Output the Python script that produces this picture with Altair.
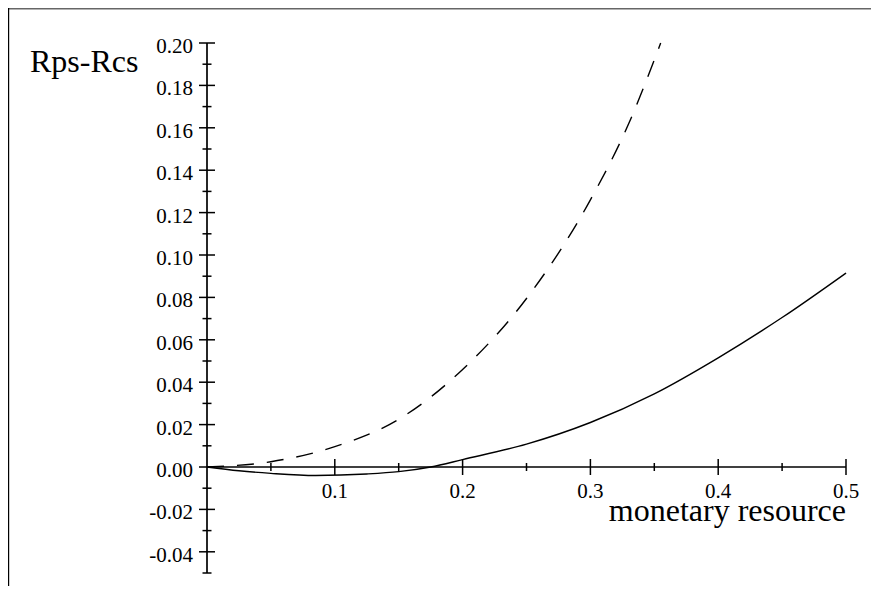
import altair as alt
import pandas as pd

# ---- data ----
solid_x = [0, 0.025, 0.05, 0.085, 0.125, 0.15, 0.175, 0.2, 0.25, 0.3, 0.35, 0.4, 0.45, 0.5]
solid_y = [0, -0.0018, -0.003, -0.004, -0.0033, -0.0022, 0.0, 0.0035, 0.0108, 0.0210, 0.0345, 0.0515, 0.0705, 0.0915]

dashed_x = [0, 0.05, 0.1, 0.15, 0.2, 0.25, 0.3, 0.33, 0.355]
dashed_y = [0, 0.0025, 0.0096, 0.0225, 0.046, 0.0795, 0.126, 0.162, 0.200]

y_major = [-0.04, -0.02, 0.0, 0.02, 0.04, 0.06, 0.08, 0.10, 0.12, 0.14, 0.16, 0.18, 0.20]
y_major_labels = ["-0.04", "-0.02", "0.00", "0.02", "0.04", "0.06", "0.08", "0.10",
                  "0.12", "0.14", "0.16", "0.18", "0.20"]
y_minor = [-0.05, -0.03, -0.01, 0.01, 0.03, 0.05, 0.07, 0.09, 0.11, 0.13, 0.15, 0.17, 0.19]

x_major = [0.1, 0.2, 0.3, 0.4, 0.5]
x_major_labels = ["0.1", "0.2", "0.3", "0.4", "0.5"]
x_minor = [0.05, 0.15, 0.25, 0.35, 0.45]

y_title = "Rps-Rcs"
x_title = "monetary resource"

x_domain = [0, 0.5]
y_domain = [-0.05, 0.2]

# ---- layout ----
W, H = 639, 530
PAD = {"left": 199, "top": 35, "right": 25, "bottom": 13}
FONT = "Liberation Serif"

xs = alt.Scale(domain=x_domain, nice=False, zero=False)
ys = alt.Scale(domain=y_domain, nice=False, zero=False)


def X(f):
    return alt.X(f, type="quantitative", scale=xs, axis=None)


def Y(f):
    return alt.Y(f, type="quantitative", scale=ys, axis=None)


solid = alt.Chart(pd.DataFrame({"x": solid_x, "y": solid_y})).mark_line(
    color="black", strokeWidth=1.4, interpolate="monotone"
).encode(x=X("x"), y=Y("y"))

dashed = alt.Chart(pd.DataFrame({"x": dashed_x, "y": dashed_y})).mark_line(
    color="black", strokeWidth=1.4, interpolate="monotone", strokeDash=[17, 13]
).encode(x=X("x"), y=Y("y"))

yaxis_line = alt.Chart(pd.DataFrame({"x": [0], "y": [y_domain[0]], "y2": [y_domain[1]]})).mark_rule(
    color="black", strokeWidth=1.7
).encode(x=X("x"), y=Y("y"), y2="y2")

xaxis_line = alt.Chart(pd.DataFrame({"x": [x_domain[0]], "x2": [x_domain[1]], "y": [0]})).mark_rule(
    color="black", strokeWidth=1.7
).encode(x=X("x"), x2="x2", y=Y("y"))

ymaj = alt.Chart(pd.DataFrame({"y": y_major, "x": [0] * len(y_major)})).mark_rule(
    color="black", strokeWidth=1.5, xOffset=-8, x2Offset=8
).encode(y=Y("y"), x=X("x"), x2="x")

ymin = alt.Chart(pd.DataFrame({"y": y_minor, "x": [0] * len(y_minor)})).mark_rule(
    color="black", strokeWidth=1.5, xOffset=-4.5, x2Offset=4.5
).encode(y=Y("y"), x=X("x"), x2="x")

xmaj = alt.Chart(pd.DataFrame({"x": x_major, "y": [0] * len(x_major)})).mark_rule(
    color="black", strokeWidth=1.5, yOffset=-8, y2Offset=8
).encode(x=X("x"), y=Y("y"), y2="y")

xmin = alt.Chart(pd.DataFrame({"x": x_minor, "y": [0] * len(x_minor)})).mark_rule(
    color="black", strokeWidth=1.5, yOffset=-4, y2Offset=4
).encode(x=X("x"), y=Y("y"), y2="y")

ylab = alt.Chart(pd.DataFrame({"y": y_major, "x": [0] * len(y_major), "t": y_major_labels})).mark_text(
    align="right", baseline="alphabetic", dx=-14, dy=10, fontSize=21, font=FONT, color="black"
).encode(x=X("x"), y=Y("y"), text="t:N")

xlab = alt.Chart(pd.DataFrame({"x": x_major, "y": [0] * len(x_major), "t": x_major_labels})).mark_text(
    align="center", baseline="alphabetic", dy=31, fontSize=21, font=FONT, color="black"
).encode(x=X("x"), y=Y("y"), text="t:N")

ytitle = alt.Chart(pd.DataFrame({"x": [0], "y": [y_domain[1]], "t": [y_title]})).mark_text(
    align="left", baseline="alphabetic", dx=-177, dy=29, fontSize=32, font=FONT, color="black"
).encode(x=X("x"), y=Y("y"), text="t:N")

xtitle = alt.Chart(pd.DataFrame({"x": [x_domain[1]], "y": [0], "t": [x_title]})).mark_text(
    align="right", baseline="alphabetic", dy=54, fontSize=32, font=FONT, color="black"
).encode(x=X("x"), y=Y("y"), text="t:N")

frame_top = alt.Chart(pd.DataFrame({"a": [0]})).mark_rule(color="#666666", strokeWidth=1.5).encode(
    x=alt.value(-PAD["left"]), x2=alt.value(W + PAD["right"]), y=alt.value(-PAD["top"] + 0.75)
)
frame_left = alt.Chart(pd.DataFrame({"a": [0]})).mark_rule(color="black", strokeWidth=1.2).encode(
    x=alt.value(-PAD["left"] + 0.6), y=alt.value(-PAD["top"]), y2=alt.value(H + PAD["bottom"])
)

chart = alt.layer(
    frame_top, frame_left, dashed, solid, yaxis_line, xaxis_line, ymaj, ymin, xmaj, xmin,
    ylab, xlab, ytitle, xtitle
).properties(
    width=W, height=H, padding=PAD, autosize=alt.AutoSizeParams(type="none"),
    background="white"
).configure_view(stroke=None)

chart.save("out.html", embed_options={"renderer": "svg", "actions": False})
